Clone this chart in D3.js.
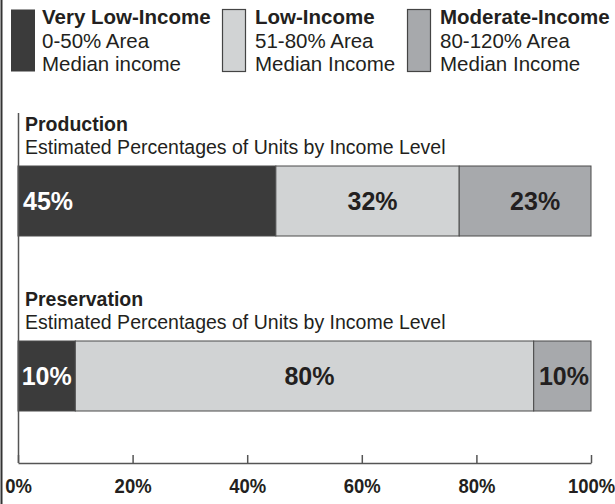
<!DOCTYPE html>
<html>
<head>
<meta charset="utf-8">
<script src="https://cdn.jsdelivr.net/npm/d3@7"></script>
<style>
  body { margin: 0; background: #fff; }
  svg { display: block; font-family: "Liberation Sans", Arial, sans-serif; }
  .axis path, .axis line { stroke: #555; stroke-width: 1.5; }
  .axis text { font-size: 21px; font-weight: bold; fill: #231f20; }
</style>
</head>
<body>
<svg id="chart" width="615" height="504"></svg>
<script>
// legend / categories
var categories = ["Very Low-Income", "Low-Income", "Moderate-Income"];
var rangeText = ["0-50% Area", "51-80% Area", "80-120% Area"];
var medianText = ["Median income", "Median Income", "Median Income"];

// the two bars
var sections = ["Production", "Preservation"];
var subtitle = "Estimated Percentages of Units by Income Level";
var production = [45, 32, 23];
var preservation = [10, 80, 10];

var tickValues = [0, 20, 40, 60, 80, 100];

var colors = ["#3b3b3b", "#d1d3d4", "#a7a9ac"];
var labelColors = ["#fff", "#231f20", "#231f20"];

// hand placement of a few labels, like the original
var labelPlace = {
  "Production|0": ["start", 5],
  "Production|1": ["middle", 5],
  "Production|2": ["middle", 10],
  "Preservation|1": ["middle", 5],
  "Preservation|2": ["end", -2]
};

drawChart();

function drawChart() {
  var svg = d3.select("#chart");
  svg.selectAll("*").remove();

  var table = sections.map(function (s, i) {
    var vals = i == 0 ? production : preservation;
    var row = { section: s };
    categories.forEach(function (c, j) { row[c] = vals[j]; });
    return row;
  });

  var stack = d3.stack().keys(categories)(table);

  var x = d3.scaleLinear().domain([0, 100]).range([18, 591]);
  var y = d3.scaleBand().domain(sections).range([166, 411])
      .paddingInner(0.6).paddingOuter(0);

  // frame line on the left
  svg.append("line")
      .attr("x1", 1.5).attr("x2", 1.5)
      .attr("y1", 0).attr("y2", 504)
      .attr("stroke", "#333").attr("stroke-width", 2);

  // legend
  var leg = svg.append("g").attr("class", "legend");
  var legX = [11, 222, 407];
  categories.forEach(function (c, i) {
    var g = leg.append("g").attr("transform", "translate(" + legX[i] + ",0)");
    g.append("rect")
        .attr("x", i == 0 ? 0 : 0.5).attr("y", 9.5)
        .attr("width", i == 0 ? 24 : 23).attr("height", 62)
        .attr("fill", colors[i])
        .attr("stroke", i == 0 ? "none" : "#444")
        .attr("stroke-width", 1.2);
    var tx = i == 0 ? 31 : 33;
    var t = g.append("text").attr("x", tx).attr("fill", "#231f20")
        .style("font-size", "20.5px");
    t.append("tspan").attr("x", tx).attr("y", 24)
        .style("font-weight", "bold").text(c);
    t.append("tspan").attr("x", tx).attr("y", 47.5).text(rangeText[i]);
    t.append("tspan").attr("x", tx).attr("y", 71).text(medianText[i]);
  });

  // section titles
  sections.forEach(function (s) {
    svg.append("text")
        .attr("x", 25).attr("y", y(s) - 35)
        .attr("fill", "#231f20")
        .style("font-size", "19.5px").style("font-weight", "bold")
        .text(s);
    svg.append("text")
        .attr("x", 25).attr("y", y(s) - 12.5)
        .attr("fill", "#231f20")
        .style("font-size", "19.5px")
        .text(subtitle);
  });

  // bars
  var layers = svg.append("g").selectAll("g")
      .data(stack)
      .enter().append("g")
      .attr("fill", function (d, i) { return colors[i]; });

  layers.selectAll("rect")
      .data(function (d) { return d; })
      .enter().append("rect")
      .attr("x", function (d) { return x(d[0]); })
      .attr("y", function (d) { return y(d.data.section); })
      .attr("width", function (d) { return x(d[1]) - x(d[0]); })
      .attr("height", y.bandwidth())
      .attr("stroke", "#4a4a4a")
      .attr("stroke-width", 1);

  // value labels
  stack.forEach(function (layer, i) {
    layer.forEach(function (d) {
      var key = d.data.section + "|" + i;
      var place = labelPlace[key] || ["middle", 0];
      var px;
      if (place[0] == "start") px = x(d[0]) + place[1];
      else if (place[0] == "end") px = x(d[1]) + place[1];
      else px = (x(d[0]) + x(d[1])) / 2 + place[1];
      svg.append("text")
          .attr("x", px)
          .attr("y", y(d.data.section) + y.bandwidth() / 2 + 9)
          .attr("text-anchor", place[0])
          .attr("fill", labelColors[i])
          .style("font-size", "25px").style("font-weight", "bold")
          .text((d[1] - d[0]) + "%");
    });
  });

  // y axis line
  svg.append("line")
      .attr("x1", 18.5).attr("x2", 18.5)
      .attr("y1", 113).attr("y2", 463)
      .attr("stroke", "#555").attr("stroke-width", 1.5);

  // x axis
  svg.append("g")
      .attr("class", "axis")
      .attr("transform", "translate(0,463)")
      .call(d3.axisBottom(x)
          .tickValues(tickValues)
          .tickFormat(function (d) { return d + "%"; })
          .tickSizeInner(-8)
          .tickSizeOuter(0)
          .tickPadding(15))
      .call(function (g) {
        g.selectAll("text")
            .attr("font-family", null).attr("font-size", null)
            .attr("transform", "scale(0.88,1)");
      });
}
</script>
</body>
</html>
